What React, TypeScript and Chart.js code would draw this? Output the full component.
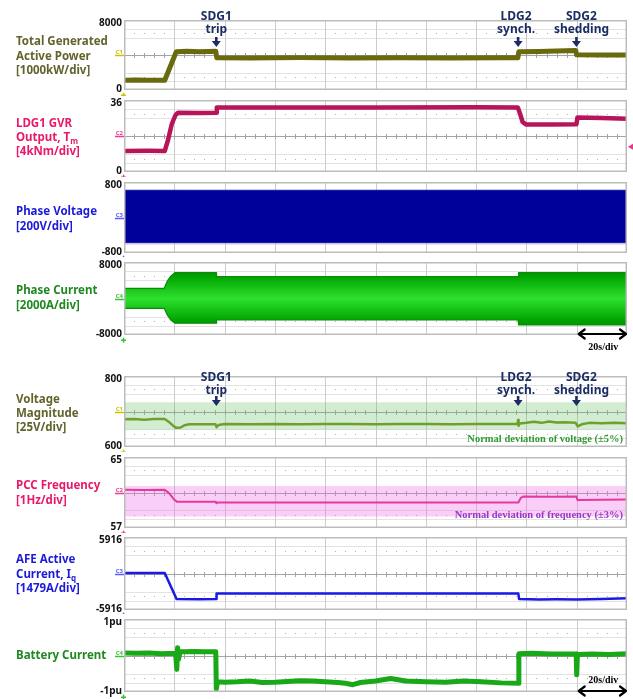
import React, { useEffect, useRef } from "react";
import { Chart, registerables } from "chart.js";
Chart.register(...registerables);

// ---------------- data ----------------
const timeMin = 0;
const timeMax = 200; // 20 s/div, 10 divisions
const scaleBarStart = 180;

const eventTimes = [36.7, 156.7, 179.9];
const eventNames = ["SDG1", "LDG2", "SDG2"];
const eventActions = ["trip", "synch.", "shedding"];

// Total generated active power [kW]
const powerTime = [0, 5, 10, 16.2, 20.8, 25, 30, 36.5, 36.9, 50, 70, 90, 110, 130, 150, 156.6, 157.0, 165, 172, 179.6, 180.0, 190, 200];
const powerKW = [1120, 1140, 1110, 1120, 4380, 4420, 4380, 4420, 3680, 3660, 3700, 3670, 3690, 3660, 3690, 3680, 4380, 4400, 4450, 4520, 4020, 4000, 3990];

// LDG1 GVR output torque [kNm]
const torqueTime = [0, 10, 16.2, 17.5, 19, 20.5, 21.5, 30, 36.6, 36.9, 60, 100, 140, 156.6, 157.5, 158.5, 159.8, 170, 179.9, 180.3, 190, 200];
const torqueKNm = [10.5, 10.6, 10.5, 16, 24, 28.5, 29.6, 29.5, 29.6, 32.2, 32.3, 32.2, 32.4, 32.3, 29, 25, 23.8, 23.7, 23.9, 27.3, 27.0, 26.6];

// Phase voltage envelope [V]
const phaseVoltTime = [0, 50, 100, 150, 200];
const phaseVoltUpper = [612, 614, 612, 613, 612];
const phaseVoltLower = [-566, -567, -566, -568, -566];

// Phase current envelope [A]
const phaseCurTime = [0, 16, 17.2, 18.6, 20.2, 36.6, 36.8, 156.7, 156.9, 200];
const phaseCurUpper = [2230, 2230, 3800, 4900, 5650, 5650, 4780, 4780, 5650, 5650];
const phaseCurLower = [-2150, -2150, -3600, -4700, -5400, -5400, -4710, -4710, -5800, -5800];

// Voltage magnitude [V]
const vmagTime = [0, 4, 8, 12, 16.2, 18, 19.5, 20.8, 22.5, 24, 26, 30, 36.4, 36.8, 37.6, 40, 50, 60, 70, 80, 90, 100, 110, 120, 130, 140, 150, 156.5, 156.7, 156.9, 157.3, 160, 163, 166, 169, 172, 175, 179.6, 180.4, 182, 185, 190, 195, 200];
const vmagVolts = [678, 679, 677, 679, 679, 670, 660, 654, 655, 661, 664, 664, 664, 656, 662, 665, 664, 665, 664, 665, 665, 664, 665, 665, 664, 665, 665, 665, 676, 660, 666, 668, 671, 668, 672, 669, 670, 668, 658, 664, 668, 667, 668, 667];
const vmagNormalBand = [649, 726];

// PCC frequency [Hz]
const freqTime = [0, 8, 16.2, 18, 19.8, 21, 36.5, 36.7, 37.2, 80, 120, 156.8, 157.8, 158.8, 170, 179.9, 180.3, 190, 200];
const freqHz = [61.3, 61.28, 61.3, 60.9, 60.25, 59.97, 59.97, 59.78, 59.86, 59.87, 59.86, 59.87, 60.4, 60.55, 60.52, 60.55, 60.16, 60.18, 60.2];
const freqNormalBand = [58.3, 61.73];

// AFE active current [A]
const afeTime = [0, 8, 16.2, 20.9, 30, 36.6, 36.8, 80, 120, 156.8, 157.1, 165, 172, 180, 190, 200];
const afeAmps = [80, 100, 80, -4150, -4180, -4150, -3250, -3230, -3250, -3260, -4150, -4200, -4170, -4200, -4120, -4000];

// Battery current [pu]
const battTime = [0, 5, 10, 15, 20.5, 21.0, 21.3, 21.7, 22.3, 24, 28, 32, 36.5, 36.7, 37.2, 40, 45, 50, 55, 60, 65, 70, 75, 80, 85, 88, 91, 94, 100, 106, 112, 120, 128, 135, 142, 150, 156.8, 157.0, 162, 170, 179.8, 180.0, 180.3, 186, 193, 200];
const battPu = [0.07, 0.06, 0.07, 0.05, 0.06, -0.38, 0.21, -0.1, 0.1, 0.1, 0.11, 0.1, 0.1, -0.92, -0.72, -0.73, -0.72, -0.7, -0.74, -0.73, -0.71, -0.69, -0.7, -0.72, -0.74, -0.76, -0.8, -0.74, -0.7, -0.63, -0.7, -0.72, -0.73, -0.7, -0.72, -0.75, -0.76, 0.05, 0.06, 0.04, 0.04, -0.53, 0.03, 0.04, 0.03, 0.05];

// axis ranges and labels (top, bottom)
const yRanges = [[0, 8000], [0, 36], [-800, 800], [-8000, 8000], [600, 800], [57, 65], [-5916, 5916], [-1, 1]];
const tickLabels = [["8000", "0"], ["36", "0"], ["800", "-800"], ["8000", "-8000"], ["800", "600"], ["65", "57"], ["5916", "-5916"], ["1pu", "-1pu"]];
const channelNames = ["C1", "C2", "C3", "C4", "C1", "C2", "C3", "C4"];
const torqueTriggerLevel = 12.6;

// ---------------- helpers ----------------
const pts = (t: number[], v: number[]) => t.map((x, i) => ({ x, y: v[i] }));
const constPts = (v: number) => [{ x: timeMin, y: v }, { x: timeMax, y: v }];

const chColors = ["#c9c400", "#f03a8c", "#5a5aff", "#33c433", "#c9c400", "#f03a8c", "#5a5aff", "#33c433"];
const NAVY = "#1b2d63";

type PanelCfg = {
  top: number; bottom: number; cTop: number; cBottom: number;
  datasets: any[];
  annot?: { l1: number; l2: number; a0: number; a1: number; off: number[] };
  caption?: { text: string; color: string; base: number };
  bar?: { arrowY: number; textY: number };
  rightMarker?: number;
};

const greenGrad = (c: any) => {
  const ch = c.chart;
  const a = ch.chartArea;
  if (!a) return "#00b000";
  const g = ch.ctx.createLinearGradient(0, a.top, 0, a.bottom);
  g.addColorStop(0, "#007800");
  g.addColorStop(0.2, "#00a400");
  g.addColorStop(0.5, "#2ee02e");
  g.addColorStop(0.8, "#00a400");
  g.addColorStop(1, "#007800");
  return g;
};

const panels: PanelCfg[] = [
  {
    top: 20, bottom: 90, cTop: 0, cBottom: 96,
    datasets: [
      { data: pts(powerTime, powerKW), borderColor: "#69690e", borderWidth: 5 },
      { data: pts(powerTime, powerKW), borderColor: "#9b9b1e", borderWidth: 1.5 },
    ],
    annot: { l1: 0, l2: 13, a0: 17, a1: 27, off: [0, -2, 5] },
  },
  {
    top: 100, bottom: 172, cTop: 96, cBottom: 177,
    datasets: [
      { data: pts(torqueTime, torqueKNm), borderColor: "#b8145a", borderWidth: 4.5 },
      { data: pts(torqueTime, torqueKNm), borderColor: "#e8327a", borderWidth: 1.5 },
    ],
    rightMarker: torqueTriggerLevel,
  },
  {
    top: 182, bottom: 253, cTop: 177, cBottom: 257,
    datasets: [
      { data: pts(phaseVoltTime, phaseVoltUpper), borderColor: "#1c1ca6", borderWidth: 1.2, fill: false },
      { data: pts(phaseVoltTime, phaseVoltLower), borderColor: "#1c1ca6", borderWidth: 1.2, fill: "-1", backgroundColor: "#00009a" },
    ],
  },
  {
    top: 262, bottom: 335, cTop: 257, cBottom: 360,
    datasets: [
      { data: pts(phaseCurTime, phaseCurUpper), borderColor: "#0c8a0c", borderWidth: 1.2, fill: false },
      { data: pts(phaseCurTime, phaseCurLower), borderColor: "#0c8a0c", borderWidth: 1.2, fill: "-1", backgroundColor: greenGrad },
    ],
    bar: { arrowY: 334, textY: 350 },
  },
  {
    top: 376, bottom: 447, cTop: 360, cBottom: 452,
    datasets: [
      { data: constPts(vmagNormalBand[1]), borderWidth: 0, borderColor: "rgba(0,0,0,0)", fill: false },
      { data: constPts(vmagNormalBand[0]), borderWidth: 0, borderColor: "rgba(0,0,0,0)", fill: "-1", backgroundColor: "rgba(110,195,110,0.30)" },
      { data: pts(vmagTime, vmagVolts), borderColor: "#748f12", borderWidth: 2.5 },
    ],
    annot: { l1: 4.5, l2: 17.5, a0: 20, a1: 30, off: [0, -2, 5] },
    caption: { text: "Normal deviation of voltage (±5%)", color: "#2f9a2f", base: 442 },
  },
  {
    top: 457, bottom: 528, cTop: 452, cBottom: 533,
    datasets: [
      { data: constPts(freqNormalBand[1]), borderWidth: 0, borderColor: "rgba(0,0,0,0)", fill: false },
      { data: constPts(freqNormalBand[0]), borderWidth: 0, borderColor: "rgba(0,0,0,0)", fill: "-1", backgroundColor: "rgba(240,110,230,0.33)" },
      { data: pts(freqTime, freqHz), borderColor: "#e0207a", borderWidth: 2 },
    ],
    caption: { text: "Normal deviation of frequency (±3%)", color: "#9a36c4", base: 517.5 },
  },
  {
    top: 537, bottom: 610, cTop: 533, cBottom: 614,
    datasets: [{ data: pts(afeTime, afeAmps), borderColor: "#1a1ae6", borderWidth: 2.5 }],
  },
  {
    top: 619, bottom: 692, cTop: 614, cBottom: 699,
    datasets: [
      { data: pts(battTime, battPu), borderColor: "#18a818", borderWidth: 5 },
      { data: pts(battTime, battPu), borderColor: "#3cdc3c", borderWidth: 1.5 },
    ],
    bar: { arrowY: 691, textY: 682.5 },
  },
];

function makePlugin(p: PanelCfg, idx: number) {
  return {
    id: "scope" + idx,
    beforeDatasetsDraw(chart: any) {
      const { ctx, chartArea: a } = chart;
      const xs = chart.scales.x;
      const w = a.right - a.left;
      const h8 = (a.bottom - a.top) / 8;
      ctx.save();
      ctx.fillStyle = "#ffffff";
      ctx.fillRect(a.left, a.top, w, a.bottom - a.top);
      ctx.lineWidth = 1;
      ctx.strokeStyle = "#e2e2e2";
      [1, 2, 6, 7].forEach((d) => {
        const y = Math.round(a.top + d * h8) + 0.5;
        ctx.beginPath(); ctx.moveTo(a.left, y); ctx.lineTo(a.right, y); ctx.stroke();
      });
      ctx.strokeStyle = "#cccccc";
      for (let t = 20; t < timeMax; t += 20) {
        const x = Math.round(xs.getPixelForValue(t)) + 0.5;
        ctx.beginPath(); ctx.moveTo(x, a.top); ctx.lineTo(x, a.bottom); ctx.stroke();
      }
      ctx.fillStyle = "#b0b0b0";
      [1.5, 6.5].forEach((d) => {
        const y = Math.round(a.top + d * h8);
        for (let t = 4; t < timeMax; t += 4) {
          if (t % 20 === 0) continue;
          ctx.fillRect(Math.round(xs.getPixelForValue(t)), y, 1, 1);
        }
      });
      const cy = Math.round((a.top + a.bottom) / 2) + 0.5;
      ctx.strokeStyle = "#a4a4a4";
      ctx.beginPath(); ctx.moveTo(a.left, cy); ctx.lineTo(a.right, cy); ctx.stroke();
      for (let t = 4; t < timeMax; t += 4) {
        const x = Math.round(xs.getPixelForValue(t)) + 0.5;
        ctx.beginPath(); ctx.moveTo(x, cy - 2.5); ctx.lineTo(x, cy + 2.5); ctx.stroke();
      }
      ctx.restore();
    },
    afterDatasetsDraw(chart: any) {
      const { ctx, chartArea: a } = chart;
      const xs = chart.scales.x;
      const ys = chart.scales.y;
      const off = p.cTop; // page y -> canvas y
      ctx.save();
      // border
      ctx.strokeStyle = "#bcbcbc";
      ctx.lineWidth = 1.5;
      ctx.strokeRect(a.left + 0.75, a.top + 0.75, a.right - a.left - 1.5, a.bottom - a.top - 1.5);
      // y labels
      ctx.fillStyle = "#111111";
      ctx.font = "bold 10px 'Noto Sans'";
      ctx.textAlign = "right";
      ctx.textBaseline = "alphabetic";
      ctx.fillText(tickLabels[idx][0], 122, a.top + 6);
      ctx.fillText(tickLabels[idx][1], 122, a.bottom + 2);
      // channel marker
      const col = chColors[idx];
      const cy = Math.round((a.top + a.bottom) / 2) + 0.5;
      ctx.strokeStyle = col;
      ctx.lineWidth = 1.5;
      ctx.beginPath(); ctx.moveTo(115, cy); ctx.lineTo(124, cy); ctx.stroke();
      ctx.fillStyle = col;
      ctx.font = "bold 6px 'Noto Sans'";
      ctx.fillText(channelNames[idx], 123, cy - 2);
      // ground marker
      const gy = a.bottom + 5;
      ctx.fillRect(121, gy - 0.5, 5, 1.5);
      ctx.fillRect(122.8, gy - 2.3, 1.5, 5);
      // right trigger marker
      if (p.rightMarker !== undefined) {
        const ry = ys.getPixelForValue(p.rightMarker);
        ctx.fillStyle = "#ee3388";
        ctx.beginPath(); ctx.moveTo(628, ry); ctx.lineTo(633, ry - 3); ctx.lineTo(633, ry + 3); ctx.closePath(); ctx.fill();
      }
      // event annotations
      if (p.annot) {
        const an = p.annot;
        ctx.fillStyle = NAVY;
        ctx.textAlign = "center";
        eventTimes.forEach((t, i) => {
          const x = xs.getPixelForValue(t);
          ctx.font = "bold 12px 'Noto Sans'";
          ctx.fillText(eventNames[i], x + an.off[i], a.top + an.l1);
          ctx.fillText(eventActions[i], x + an.off[i], a.top + an.l2);
          const y0 = a.top + an.a0, y1 = a.top + an.a1;
          ctx.fillRect(x - 1.3, y0, 2.6, y1 - y0 - 4);
          ctx.beginPath();
          ctx.moveTo(x - 4.5, y1 - 6); ctx.lineTo(x + 4.5, y1 - 6); ctx.lineTo(x, y1); ctx.closePath(); ctx.fill();
        });
      }
      // caption
      if (p.caption) {
        ctx.fillStyle = p.caption.color;
        ctx.font = "bold 10.5px 'Liberation Serif'";
        ctx.textAlign = "right";
        ctx.fillText(p.caption.text, 623, p.caption.base - off);
      }
      // scale bar
      if (p.bar) {
        const x0 = xs.getPixelForValue(scaleBarStart) + 2;
        const x1 = xs.getPixelForValue(timeMax) - 1;
        const y = p.bar.arrowY - off;
        ctx.strokeStyle = "#000000";
        ctx.lineWidth = 2.2;
        ctx.lineCap = "round";
        ctx.lineJoin = "round";
        ctx.beginPath();
        ctx.moveTo(x0, y); ctx.lineTo(x1, y);
        ctx.moveTo(x0 + 6, y - 4.5); ctx.lineTo(x0, y); ctx.lineTo(x0 + 6, y + 4.5);
        ctx.moveTo(x1 - 6, y - 4.5); ctx.lineTo(x1, y); ctx.lineTo(x1 - 6, y + 4.5);
        ctx.stroke();
        ctx.fillStyle = "#000000";
        ctx.font = "bold 10px 'Liberation Serif'";
        ctx.textAlign = "center";
        ctx.fillText("20s/div", (x0 + x1) / 2 + 1, p.bar.textY - off);
      }
      ctx.restore();
    },
  };
}

function buildConfig(p: PanelCfg, idx: number): any {
  return {
    type: "line",
    data: { datasets: p.datasets.map((d) => ({ pointRadius: 0, tension: 0, fill: false, ...d })) },
    options: {
      responsive: false,
      animation: false,
      events: [],
      layout: { padding: { left: 124, right: 6, top: p.top - p.cTop, bottom: p.cBottom - p.bottom } },
      scales: {
        x: { type: "linear", min: timeMin, max: timeMax, display: false },
        y: { type: "linear", min: yRanges[idx][0], max: yRanges[idx][1], display: false },
      },
      plugins: { legend: { display: false }, tooltip: { enabled: false } },
      elements: { point: { radius: 0 }, line: { borderJoinStyle: "round", borderCapStyle: "round" } },
    },
    plugins: [makePlugin(p, idx)],
  };
}

// ---------------- left labels ----------------
type Line = { t: string; sub?: string };
const leftLabels: { lines: Line[]; base: number; color: string }[] = [
  { lines: [{ t: "Total Generated" }, { t: "Active Power" }, { t: "[1000kW/div]" }], base: 46, color: "#63632e" },
  { lines: [{ t: "LDG1 GVR" }, { t: "Output, T", sub: "m" }, { t: "[4kNm/div]" }], base: 127.3, color: "#e8196a" },
  { lines: [{ t: "Phase Voltage" }, { t: "[200V/div]" }], base: 216, color: "#1b1bd9" },
  { lines: [{ t: "Phase Current" }, { t: "[2000A/div]" }], base: 295, color: "#208820" },
  { lines: [{ t: "Voltage" }, { t: "Magnitude" }, { t: "[25V/div]" }], base: 403.3, color: "#63632e" },
  { lines: [{ t: "PCC Frequency" }, { t: "[1Hz/div]" }], base: 490, color: "#e8196a" },
  { lines: [{ t: "AFE Active" }, { t: "Current, I", sub: "q" }, { t: "[1479A/div]" }], base: 564, color: "#1b1bd9" },
  { lines: [{ t: "Battery Current" }], base: 660, color: "#208820" },
];
const LINE_GAP = 14.3;

export default function App() {
  const refs = useRef<(HTMLCanvasElement | null)[]>([]);
  useEffect(() => {
    const charts = panels.map((p, i) => new Chart(refs.current[i] as HTMLCanvasElement, buildConfig(p, i)));
    return () => charts.forEach((c) => c.destroy());
  }, []);
  return (
    <div style={{ position: "absolute", left: 0, top: 0, width: 633, height: 699, background: "#ffffff", overflow: "hidden" }}>
      {panels.map((p, i) => (
        <canvas
          key={i}
          ref={(el) => { refs.current[i] = el; }}
          width={633}
          height={p.cBottom - p.cTop}
          style={{ position: "absolute", left: 0, top: p.cTop, width: 633, height: p.cBottom - p.cTop }}
        />
      ))}
      {leftLabels.map((lab, i) =>
        lab.lines.map((ln, j) => (
          <div
            key={i + "-" + j}
            style={{
              position: "absolute",
              left: 16,
              top: lab.base + j * LINE_GAP - 11.7,
              font: "700 11.5px 'Noto Sans'",
              lineHeight: "14.4px",
              color: lab.color,
              whiteSpace: "nowrap",
            }}
          >
            {ln.t}
            {ln.sub ? <span style={{ fontSize: "8px", position: "relative", top: "3px" }}>{ln.sub}</span> : null}
          </div>
        ))
      )}
    </div>
  );
}
